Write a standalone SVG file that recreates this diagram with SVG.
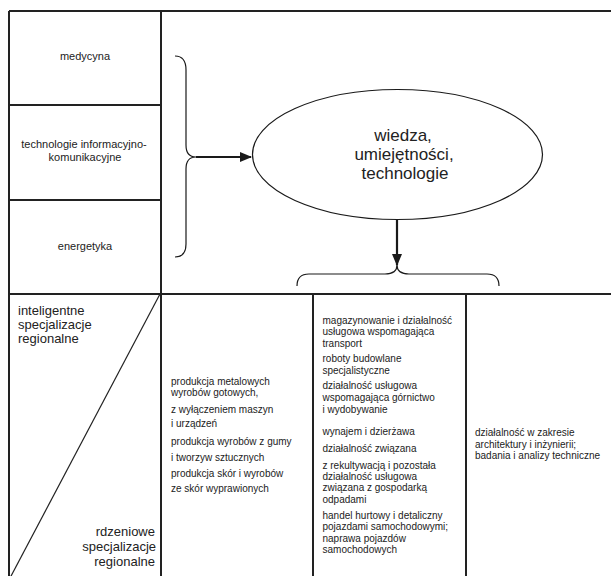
<svg xmlns="http://www.w3.org/2000/svg" width="611" height="576" viewBox="0 0 611 576">
<defs>
<style>
.frame{stroke:#222;stroke-width:2;fill:none}
.thin{stroke:#222;stroke-width:1.2;fill:none}
.conn{stroke:#1a1a1a;stroke-width:2.2;fill:none}
.brace{stroke:#1a1a1a;stroke-width:1.2;fill:none}
text{font-family:"Liberation Sans",Arial,sans-serif;fill:#222}
.s11{font-size:11px;text-anchor:middle}
.s13{font-size:13px}
.s10{font-size:10px}
.big{font-size:17px;text-anchor:middle}
</style>
<marker id="ah" markerWidth="12" markerHeight="10" refX="11" refY="5" orient="auto" markerUnits="userSpaceOnUse">
<path d="M0,0 L12,5 L0,10 Z" fill="#1a1a1a"/>
</marker>
</defs>
<rect width="611" height="576" fill="#fff"/>
<g id="grid">
<path class="frame" d="M9,11 H612 M9,11 V577 M161,11 V577 M9,105 H161 M9,200 H161 M9,294 H612 M313,294 V577 M466,294 V577"/>
<path class="thin" d="M160,294 L10,578"/>
</g>
<g id="n-medycyna"><text class="s11" x="85" y="60">medycyna</text></g>
<g id="n-tik"><text class="s11" x="84" y="148">technologie informacyjno-</text><text class="s11" x="85" y="161">komunikacyjne</text></g>
<g id="n-energetyka"><text class="s11" x="85" y="249.5">energetyka</text></g>
<g id="n-wiedza">
<ellipse cx="397.5" cy="154.5" rx="145" ry="65" fill="none" stroke="#1a1a1a" stroke-width="1.2"/>
<text class="big" x="403" y="141">wiedza,</text>
<text class="big" x="404" y="160">umiejętności,</text>
<text class="big" x="405" y="179">technologie</text>
</g>
<g id="n-inteligentne"><text class="s13" x="18" y="315">inteligentne</text><text class="s13" x="18" y="329">specjalizacje</text><text class="s13" x="18" y="343">regionalne</text></g>
<g id="n-rdzeniowe"><text class="s13" x="155" y="536" text-anchor="end">rdzeniowe</text><text class="s13" x="156" y="551" text-anchor="end">specjalizacje</text><text class="s13" x="155" y="566" text-anchor="end">regionalne</text></g>
<g id="n-col2">
<text class="s10" x="171" y="384.5">produkcja metalowych</text>
<text class="s10" x="171" y="395.5">wyrobów gotowych,</text>
<text class="s10" x="171" y="412.5">z wyłączeniem maszyn</text>
<text class="s10" x="171" y="427">i urządzeń</text>
<text class="s10" x="171" y="444.5">produkcja wyrobów z gumy</text>
<text class="s10" x="171" y="460.5">i tworzyw sztucznych</text>
<text class="s10" x="171" y="476.5">produkcja skór i wyrobów</text>
<text class="s10" x="171" y="491.5">ze skór wyprawionych</text>
</g>
<g id="n-col3">
<text class="s10" x="322.5" y="323.5">magazynowanie i działalność</text>
<text class="s10" x="322.5" y="335">usługowa wspomagająca</text>
<text class="s10" x="322.5" y="346.5">transport</text>
<text class="s10" x="322.5" y="362">roboty budowlane</text>
<text class="s10" x="322.5" y="373.5">specjalistyczne</text>
<text class="s10" x="322.5" y="389">działalność usługowa</text>
<text class="s10" x="322.5" y="401">wspomagająca górnictwo</text>
<text class="s10" x="322.5" y="412.5">i wydobywanie</text>
<text class="s10" x="322.5" y="434.5">wynajem i dzierżawa</text>
<text class="s10" x="322.5" y="452">działalność związana</text>
<text class="s10" x="322.5" y="468.5">z rekultywacją i pozostała</text>
<text class="s10" x="322.5" y="479.5">działalność usługowa</text>
<text class="s10" x="322.5" y="491">związana z gospodarką</text>
<text class="s10" x="322.5" y="502.5">odpadami</text>
<text class="s10" x="322.5" y="518.5">handel hurtowy i detaliczny</text>
<text class="s10" x="322.5" y="530">pojazdami samochodowymi;</text>
<text class="s10" x="322.5" y="541.5">naprawa pojazdów</text>
<text class="s10" x="322.5" y="553">samochodowych</text>
</g>
<g id="n-col4">
<text class="s10" x="475" y="436">działalność w zakresie</text>
<text class="s10" x="475" y="447.5">architektury i inżynierii;</text>
<text class="s10" x="475" y="459">badania i analizy techniczne</text>
</g>
<g id="connectors">
<path class="brace" d="M175,56 Q186,56 186,70 L186,145 Q186,157 196,157 Q186,157 186,169 L186,244 Q186,257 175,257"/>
<path class="conn" d="M196,157 H251" marker-end="url(#ah)"/>
<path class="conn" d="M397,220 V265" marker-end="url(#ah)"/>
<path class="brace" d="M297,286 Q297,274 309,274 L385,274 Q397,274 397,265 Q397,274 409,274 L487,274 Q499,274 499,286"/>
</g>
</svg>
